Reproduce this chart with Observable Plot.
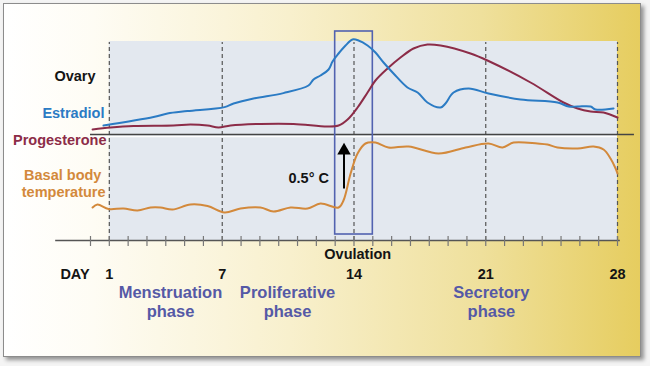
<!DOCTYPE html>
<html>
<head>
<meta charset="utf-8">
<script src="https://cdn.jsdelivr.net/npm/d3@7"></script>
<script src="https://cdn.jsdelivr.net/npm/@observablehq/plot@0.6"></script>
<style>
  html, body { margin: 0; padding: 0; width: 650px; height: 366px; background: #f4f4f4; overflow: hidden; }
  #card {
    position: absolute; left: 3px; top: 3px; width: 636px; height: 352px;
    border: 1.5px solid #8c8c8c;
    box-shadow: 3px 3px 4px rgba(0,0,0,0.4);
    background: linear-gradient(90deg, #ffffff 0%, #fefcf4 14%, #f8f0cd 45%, #efe09c 75%, #e6cd5f 100%);
  }
  #chart { position: absolute; left: 0; top: 0; }
</style>
</head>
<body>
<div id="card"></div>
<div id="chart"></div>
<script>
// ---- data (x = cycle day, value = relative level in chart units) ----
const estradiolDays = [0.69, 3.35, 4.09, 5.15, 7.12, 7.6, 8.66, 10.25, 11.58, 11.85, 12.22, 12.65, 12.86, 13.18, 13.55, 13.92, 14.24, 14.72, 15.14, 15.57, 16.1, 16.84, 17.38, 17.9, 18.6, 18.86, 19.29, 20.09, 21.15, 22.85, 24.81, 25.4, 25.88, 26.57, 26.83, 27.79];
const estradiolLevel = [57.5, 61.7, 63.5, 64.7, 66.7, 68.5, 71, 73.7, 77.5, 80.5, 82.5, 85.5, 89.5, 93.5, 97.5, 100.5, 100, 97.5, 94, 89, 83.5, 76.5, 74, 69, 66.5, 68.5, 74, 76, 73.5, 70.5, 69, 67, 67, 67, 65.5, 66];

const progesteroneDays = [0.11, 1.06, 2.28, 4.41, 5.31, 6.22, 6.8, 7.44, 9.03, 10.79, 12.59, 13.18, 13.66, 14.19, 14.72, 15.14, 15.78, 16.47, 17.16, 17.9, 18.6, 20.19, 21.09, 23.38, 25.13, 25.88, 26.57, 27.26, 28];
const progesteroneLevel = [55.5, 56.5, 57.3, 57.5, 58, 57.5, 56.5, 57.5, 58.3, 58.3, 57, 57.5, 60.5, 66.5, 74, 80, 86, 91.5, 96, 98, 97.5, 93.5, 90, 79, 69, 66, 64.5, 64, 61.5];

const temperatureDays = [0.11, 0.37, 0.96, 1.75, 2.5, 3.19, 3.72, 4.36, 5.31, 6.22, 7.12, 7.97, 9.03, 9.72, 10.63, 11.53, 12.22, 13.18, 13.44, 13.82, 14.19, 14.61, 15.14, 15.83, 16.9, 18.49, 19.93, 21.15, 21.89, 22.48, 23.75, 24.28, 24.81, 25.88, 26.73, 27.26, 27.63, 27.9, 28];
const temperatureLevel = [16.5, 18, 15.75, 16, 15, 16.5, 16.5, 15.5, 18, 17.25, 14, 16, 16.5, 14.5, 16.5, 16, 18.5, 16.5, 20, 33.5, 43.5, 48.5, 49, 46.5, 47, 43.5, 46.5, 48.5, 46.5, 49, 48.5, 48, 46.5, 46, 47, 45.5, 41, 36, 33.5];

const tickDays = d3.range(0, 29);
const dashedDays = [1, 7, 14, 21, 28];
const dayLabels = ["1", "7", "14", "21", "28"];
const phaseNames = ["Menstruation", "Proliferative", "Secretory"];
const phaseCenters = [4.25, 10.47, 21.3];
const ovulationWindow = [13, 15];

const zip = (xs, ys) => xs.map((x, i) => ({day: x, value: ys[i]}));
const estradiol = zip(estradiolDays, estradiolLevel);
const progesterone = zip(progesteroneDays, progesteroneLevel);
const temperature = zip(temperatureDays, temperatureLevel);

const C = {
  blue: "#2b7bc4", maroon: "#8c2c48", orange: "#d3893b",
  phase: "#5559a6", rect: "#5262b0", panel: "#e3e8ef", ink: "#141414"
};
const font = {fontFamily: "'Liberation Sans', Arial, sans-serif", fontWeight: "bold"};

const chart = Plot.plot({
  width: 650, height: 366,
  marginLeft: 90, marginRight: 33, marginTop: 40, marginBottom: 126,
  x: {domain: [0, 28], axis: null},
  y: {domain: [0, 100], axis: null},
  style: {background: "transparent", fontFamily: "'Liberation Sans', Arial, sans-serif"},
  marks: [
    // panel
    Plot.rect([0], {x1: 1, x2: 28, y1: 0, y2: 99.5, fill: C.panel}),
    // dashed day lines
    Plot.ruleX(dashedDays, {x: d => d, y1: 0, y2: 99, stroke: "#555", strokeWidth: 1.2, strokeDasharray: "4,3"}),
    // separator line between hormone and temperature sections
    Plot.ruleY([52], {x1: 0, x2: 28, stroke: "#ffffff", strokeWidth: 1.5}),
    Plot.ruleY([53], {x1: 0, x2: 28.9, stroke: "#444", strokeWidth: 1.5}),
    // baseline and ticks
    Plot.ruleY([0], {x1: -1.85, x2: 28.15, stroke: "#555", strokeWidth: 1.5}),
    Plot.ruleX(tickDays, {x: d => d, y1: -3, y2: 2, stroke: "#777", strokeWidth: 1.2}),
    // ovulation window
    Plot.rect([ovulationWindow], {x1: d => d[0], x2: d => d[1], y1: 3, y2: 104.5, fill: "none", stroke: C.rect, strokeWidth: 1.6}),
    // series
    Plot.line(progesterone, {x: "day", y: "value", stroke: C.maroon, strokeWidth: 2, curve: "catmull-rom"}),
    Plot.line(estradiol, {x: "day", y: "value", stroke: C.blue, strokeWidth: 2, curve: "catmull-rom"}),
    Plot.line(temperature, {x: "day", y: "value", stroke: C.orange, strokeWidth: 2, curve: "catmull-rom"}),
    // 0.5 C arrow
    Plot.link([0], {x1: 13.47, x2: 13.47, y1: 26, y2: 44, stroke: "#000", strokeWidth: 2}),
    Plot.dot([0], {x: 13.47, y: 45, symbol: "triangle", r: 5, fill: "#000", stroke: "none"}),
    Plot.text(["0.5° C"], {x: 12.67, y: 31, text: d => d, textAnchor: "end", fill: C.ink, fontSize: 14.5, ...font}),
    // series labels
    Plot.text(["Ovary"], {x: 0.27, y: 82, text: d => d, textAnchor: "end", fill: C.ink, fontSize: 14.5, ...font}),
    Plot.text(["Estradiol"], {x: 0.74, y: 63.5, text: d => d, textAnchor: "end", fill: C.blue, fontSize: 14.5, ...font}),
    Plot.text(["Progesterone"], {x: 0.85, y: 50, text: d => d, textAnchor: "end", fill: C.maroon, fontSize: 14.5, ...font}),
    Plot.text(["Basal body"], {x: 0.58, y: 32.5, text: d => d, textAnchor: "end", fill: C.orange, fontSize: 14.5, ...font}),
    Plot.text(["temperature"], {x: 0.8, y: 24, text: d => d, textAnchor: "end", fill: C.orange, fontSize: 14.5, ...font}),
    // axis labels
    Plot.text(["Ovulation"], {x: 14.2, y: -7, text: d => d, fill: C.ink, fontSize: 14.5, ...font}),
    Plot.text(["DAY"], {x: -1.6, y: -17, text: d => d, textAnchor: "start", fill: C.ink, fontSize: 14.5, ...font}),
    Plot.text(dashedDays, {x: d => d, y: -17, text: (d, i) => dayLabels[i], fill: C.ink, fontSize: 14.5, ...font}),
    // phases
    Plot.text(phaseNames, {x: (d, i) => phaseCenters[i], y: -26, text: d => d, fill: C.phase, fontSize: 16.5, ...font}),
    Plot.text(phaseNames, {x: (d, i) => phaseCenters[i], y: -35.5, text: () => "phase", fill: C.phase, fontSize: 16.5, ...font})
  ]
});
document.getElementById("chart").appendChild(chart);
</script>
</body>
</html>
